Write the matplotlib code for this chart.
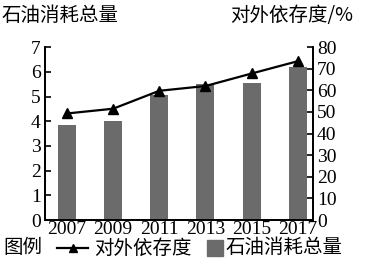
import matplotlib.pyplot as plt
from matplotlib.lines import Line2D
from matplotlib.patches import Rectangle

years = [2007, 2009, 2011, 2013, 2015, 2017]
consumption = [3.85, 4.0, 5.08, 5.5, 5.56, 6.2]
dependence = [49.3, 51.5, 59.8, 62.0, 67.8, 73.5]
left_ticks = [0, 1, 2, 3, 4, 5, 6, 7]
right_ticks = [0, 10, 20, 30, 40, 50, 60, 70, 80]

cjk = ['Noto Sans CJK SC', 'DejaVu Sans']
plt.rcParams['font.family'] = ['Liberation Serif', 'Noto Sans CJK SC']
bar_color = '#6b6b6b'

fig = plt.figure(figsize=(3.72, 2.74), dpi=100)
ax = fig.add_axes([0.121, 0.197, 0.72, 0.631])
ax2 = ax.twinx()

ax.bar(years, consumption, width=0.78, color=bar_color, zorder=2)
ax2.plot(years, dependence, color='black', lw=1.6, marker='^', ms=7, zorder=3)

ax.set_xlim(2006.05, 2017.65)
ax.set_ylim(0, 7)
ax2.set_ylim(0, 80)
ax.set_xticks(years)
ax.set_yticks(left_ticks)
ax2.set_yticks(right_ticks)

ax.tick_params(axis='y', direction='in', labelsize=14, length=4, width=1.2, pad=3)
ax2.tick_params(axis='y', direction='in', labelsize=14, length=4, width=1.2, pad=3)
ax.tick_params(axis='x', length=0, labelsize=14, pad=1)
ax.spines['top'].set_visible(False)
ax2.spines['top'].set_visible(False)
for s in ['left', 'right', 'bottom']:
    ax.spines[s].set_linewidth(1.3)
    ax2.spines[s].set_linewidth(1.3)

fig.text(0.003, 0.945, '石油消耗总量', family=cjk, fontsize=14, va='center', ha='left')
fig.text(0.95, 0.945, '对外依存度/%', family=cjk, fontsize=14, va='center', ha='right')

# legend row
ly = 0.095
fig.text(0.01, ly, '图例', family=cjk, fontsize=14, va='center', ha='left')
fig.add_artist(Line2D([0.153, 0.237], [ly, ly], color='black', lw=1.6,
                      transform=fig.transFigure))
fig.add_artist(Line2D([0.195], [ly], color='black', marker='^', ms=6,
                      transform=fig.transFigure))
fig.text(0.252, ly, '对外依存度', family=cjk, fontsize=14, va='center', ha='left')
fig.add_artist(Rectangle((0.556, ly - 0.028), 0.044, 0.058, color=bar_color,
                         transform=fig.transFigure))
fig.text(0.607, ly, '石油消耗总量', family=cjk, fontsize=14, va='center', ha='left')

fig.savefig('out.png', dpi=100)
